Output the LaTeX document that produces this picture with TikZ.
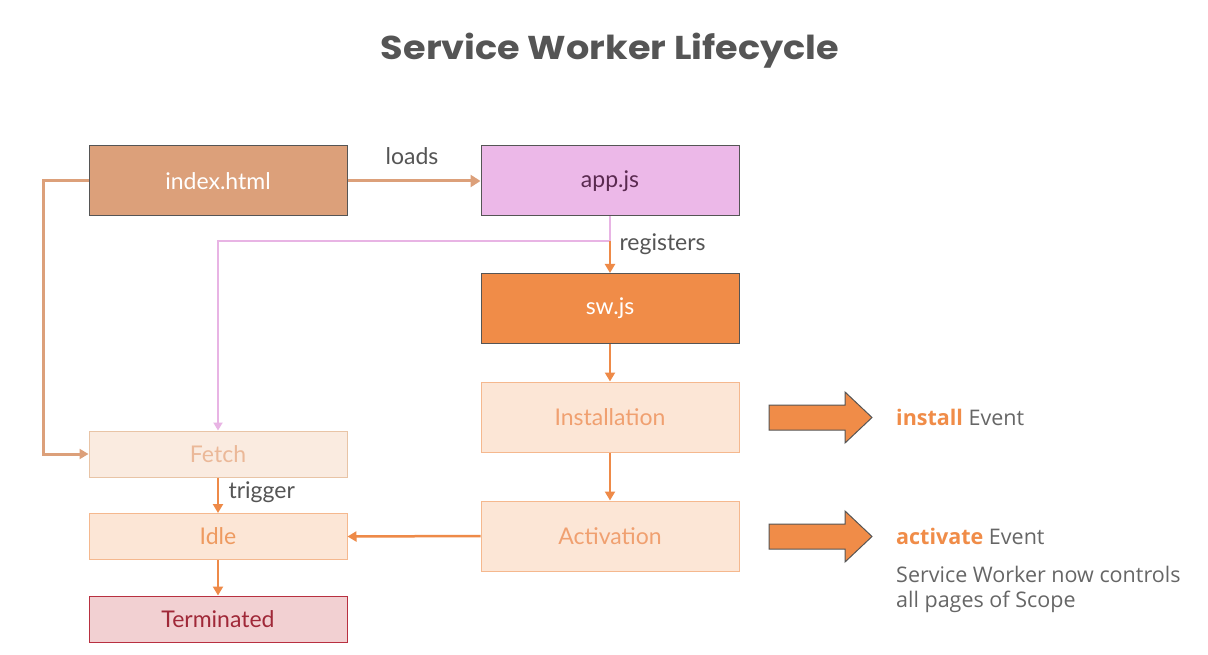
\documentclass[tikz,border=0pt]{standalone}
\usepackage{fontspec}
\setmainfont{Lato}
\newfontfamily\titlefont{Poppins}
\newfontfamily\evfont{Open Sans}
\usetikzlibrary{arrows.meta}
\definecolor{idxfill}{HTML}{DCA07A}
\definecolor{appfill}{HTML}{ECB8E8}
\definecolor{apptext}{HTML}{5A2A50}
\definecolor{swfill}{HTML}{F08C48}
\definecolor{lightfill}{HTML}{FCE6D6}
\definecolor{lightborder}{HTML}{F5B88E}
\definecolor{lighttext}{HTML}{F0A070}
\definecolor{fetchfill}{HTML}{FAEBE0}
\definecolor{fetchborder}{HTML}{E8C4A6}
\definecolor{fetchtext}{HTML}{EBB898}
\definecolor{idletext}{HTML}{EE9A60}
\definecolor{termfill}{HTML}{F2D0D2}
\definecolor{termborder}{HTML}{B83040}
\definecolor{termtext}{HTML}{A02838}
\definecolor{darkbd}{HTML}{555555}
\definecolor{orangeline}{HTML}{EE8A48}
\definecolor{pinkline}{HTML}{E8B4E4}
\definecolor{labelgray}{HTML}{555555}
\definecolor{evgray}{HTML}{666666}
\tikzset{
  box/.style={rectangle, minimum width=258pt, inner sep=0pt, font=\fontsize{23}{27}\selectfont, line width=1pt},
  bigbox/.style={box, minimum height=70pt},
  smallbox/.style={box, minimum height=46pt},
  conn/.style={orangeline, line width=2.5pt, -{Triangle[length=9pt,width=10pt]}},
  lbl/.style={text=labelgray, font=\fontsize{23}{27}\selectfont},
  evtext/.style={text=evgray, font=\evfont\fontsize{21.5}{25}\selectfont, anchor=west, inner sep=0pt},
  blockarrow/.style={draw=darkbd, fill=swfill, line width=1pt, line join=miter}
}
\begin{document}
\begin{tikzpicture}[x=1pt,y=-1pt]
\useasboundingbox[fill=white] (0,0) rectangle (1208,655);
\node[font=\titlefont\bfseries\fontsize{33}{38}\selectfont, text=labelgray] (title) at (610,51) {\scalebox{1.11}[1]{Service Worker Lifecycle}};

\node[bigbox, draw=darkbd, fill=idxfill, text=white] (index) at (218,181) {index.html};
\node[bigbox, draw=darkbd, fill=appfill, text=apptext] (app) at (610,181) {app.js};
\node[bigbox, draw=darkbd, fill=swfill, text=white] (sw) at (610,308.5) {sw.js};
\node[bigbox, draw=lightborder, fill=lightfill, text=lighttext] (inst) at (610,417) {Installation};
\node[bigbox, draw=lightborder, fill=lightfill, text=lighttext] (act) at (610,536) {Activation};
\node[smallbox, draw=fetchborder, fill=fetchfill, text=fetchtext] (fetch) at (218,454) {Fetch};
\node[smallbox, draw=lightborder, fill=lightfill, text=idletext] (idle) at (218,536.5) {Idle};
\node[smallbox, draw=termborder, fill=termfill, text=termtext] (term) at (218,619) {Terminated};

\coordinate (split) at (610,241);
\coordinate (leftcorner) at (43,181);

% connectors
\draw[idxfill, line width=3pt, -{Triangle[length=10pt,width=12pt]}] (index.east) -- (app.west);
\node[lbl] (loadslbl) at (412,156) {loads};
\draw[idxfill, line width=3pt, -{Triangle[length=9pt,width=10pt]}] (index.west) -- (leftcorner) |- (fetch.west);
\draw[pinkline, line width=2pt] (app.south) -- (split);
\draw[pinkline, line width=2pt, -{Triangle[length=8pt,width=9pt]}] (split) -| (fetch.north);
\draw[conn] (split) -- (sw.north);
\node[lbl, anchor=west] (reglbl) at (616,244) {registers};
\draw[conn] (sw.south) -- (inst.north);
\draw[conn] (inst.south) -- (act.north);
\draw[conn] (act.west) -- (idle.east);
\draw[conn] (fetch.south) -- (idle.north);
\node[lbl, anchor=west] (trig) at (225,492) {trigger};
\draw[conn] (idle.south) -- (term.north);

% block arrows
\draw[blockarrow] (769,405) -- (845,405) -- (845,392) -- (872,417.5) -- (845,443) -- (845,430) -- (769,430) -- cycle;
\draw[blockarrow] (769,524) -- (845,524) -- (845,511) -- (872,536.5) -- (845,562) -- (845,549) -- (769,549) -- cycle;
\node[evtext] (ev1) at (896,417) {\textcolor{swfill}{\bfseries install} Event};
\node[evtext] (ev2) at (896,536) {\textcolor{swfill}{\bfseries activate} Event};
\node[evtext] (ev3) at (896,574) {Service Worker now controls};
\node[evtext] (ev4) at (896,602) {all pages of Scope};
\end{tikzpicture}
\end{document}
